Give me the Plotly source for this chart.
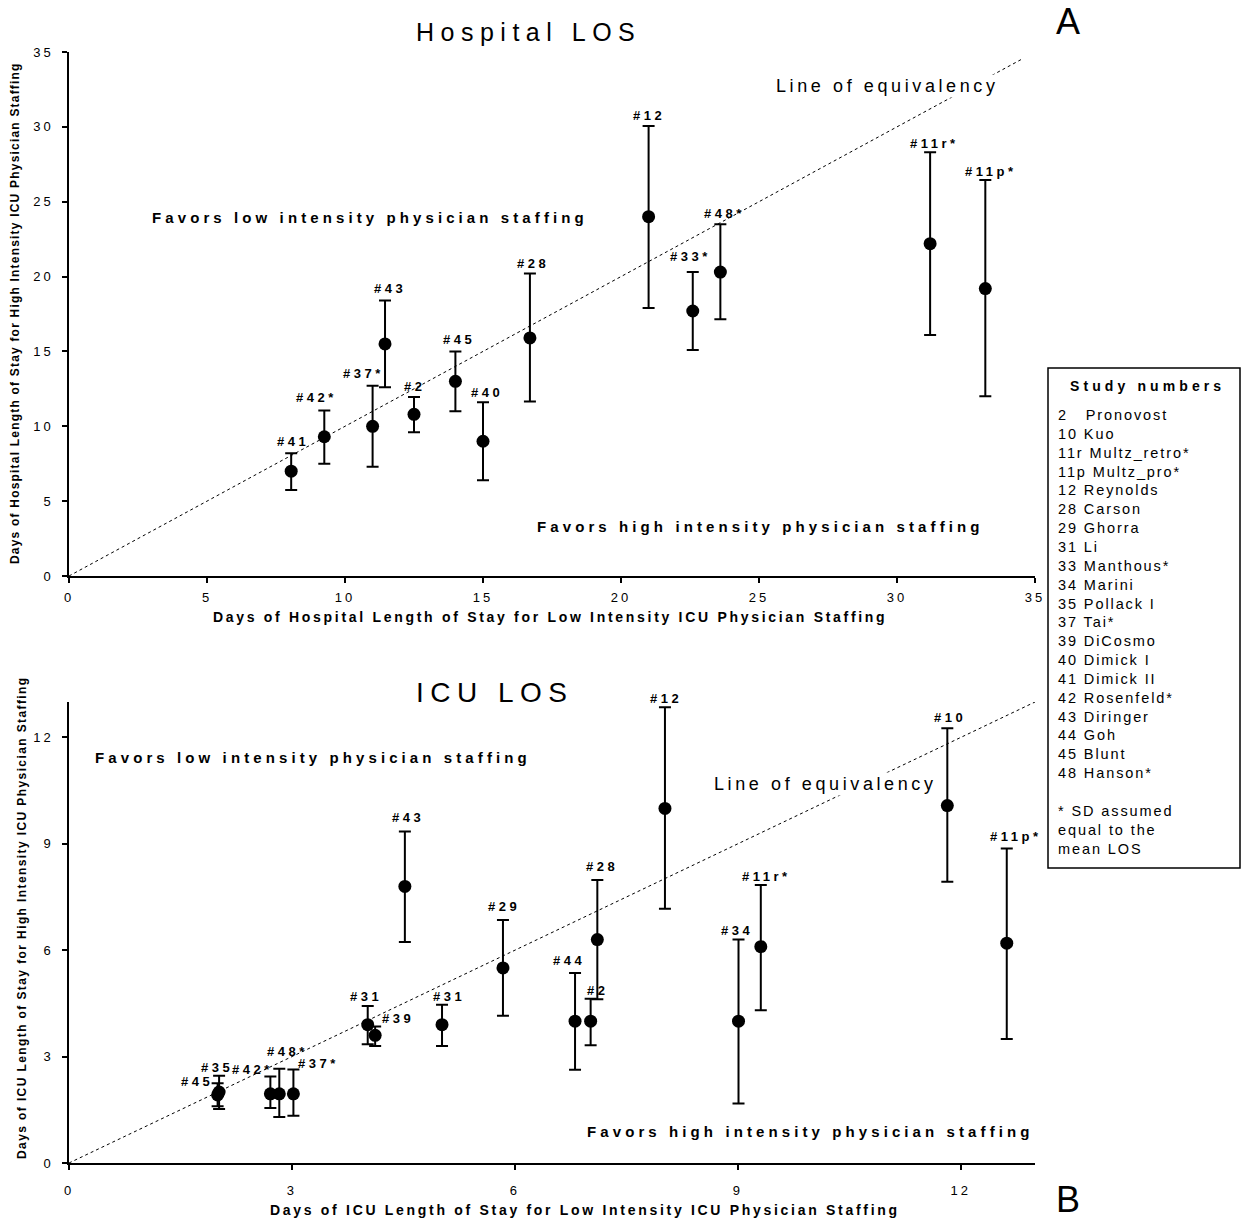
import plotly.graph_objects as go

# ---------------- data: Hospital LOS (panel A) ----------------
labels_top = ["#41", "#42*", "#37*", "#43", "#2", "#45", "#40", "#28", "#12", "#33*", "#48*", "#11r*", "#11p*"]
x_top = [8.05, 9.25, 11.0, 11.45, 12.5, 14.0, 15.0, 16.7, 21.0, 22.6, 23.6, 31.2, 33.2]
y_top = [7.0, 9.3, 10.0, 15.5, 10.8, 13.0, 9.0, 15.9, 24.0, 17.7, 20.3, 22.2, 19.2]
hi_top = [8.2, 11.05, 12.7, 18.4, 11.95, 15.0, 11.6, 20.2, 30.05, 20.3, 23.5, 28.3, 26.45]
lo_top = [5.75, 7.5, 7.3, 12.6, 9.6, 11.0, 6.4, 11.65, 17.9, 15.1, 17.15, 16.1, 12.0]
equiv_top = [0, 34.5]
ticks_top = [0, 5, 10, 15, 20, 25, 30, 35]

# ---------------- data: ICU LOS (panel B) ----------------
labels_bot = ["#45", "#35", "#42*", "#48*", "#37*", "#31", "#39", "#31", "#43", "#29",
              "#44", "#2", "#28", "#12", "#34", "#11r*", "#10", "#11p*"]
x_bot = [2.0, 2.02, 2.71, 2.83, 3.02, 4.02, 4.12, 5.02, 4.52, 5.84, 6.81, 7.02, 7.11, 8.02, 9.01, 9.31, 11.82, 12.62]
y_bot = [1.92, 2.0, 1.95, 1.95, 1.95, 3.9, 3.6, 3.9, 7.8, 5.5, 4.0, 4.0, 6.3, 10.0, 4.0, 6.1, 10.08, 6.2]
hi_bot = [2.25, 2.46, 2.44, 2.66, 2.64, 4.43, 3.85, 4.46, 9.35, 6.85, 5.36, 4.63, 7.98, 12.85, 6.3, 7.84, 12.26, 8.87]
lo_bot = [1.6, 1.52, 1.55, 1.3, 1.33, 3.35, 3.3, 3.3, 6.23, 4.15, 2.63, 3.32, 4.62, 7.17, 1.68, 4.31, 7.93, 3.5]
equiv_bot = [0, 13]
ticks_bot = [0, 3, 6, 9, 12]

# ---------------- legend box text ----------------
study_ids = ["2  ", "10", "11r", "11p", "12", "28", "29", "31", "33", "34", "35", "37", "39", "40", "41", "42", "43", "44", "45", "48"]
study_names = ["Pronovost", "Kuo", "Multz_retro*", "Multz_pro*", "Reynolds", "Carson", "Ghorra", "Li",
               "Manthous*", "Marini", "Pollack I", "Tai*", "DiCosmo", "Dimick I", "Dimick II",
               "Rosenfeld*", "Diringer", "Goh", "Blunt", "Hanson*"]
note_lines = ["* SD assumed", "equal to the", "mean LOS"]

# label pixel offsets (dx, dy) relative to the top of each error bar
off_top = [(0, 12), (-9, 13), (-11, 12), (3, 12), (-1, 11), (2, 12), (2, 10), (2, 10), (-1, 11),
           (-4, 16), (3, 11), (3, 9), (4, 9)]
off_bot = [(-22, 2), (-4, 8), (-19, 7), (7, 17), (24, 6), (-3, 9), (21, 8), (5, 8), (2, 14), (0, 14),
           (-8, 12), (5, 8), (3, 14), (0, 9), (-3, 9), (4, 8), (1, 11), (7, 12)]

W, H = 1241, 1222
FONT = "Liberation Sans, Arial, sans-serif"


def px(xp):
    return xp / W


def py(yp):
    return 1 - yp / H


def spaced(text, sp):
    return '<span style="letter-spacing:%spx">%s</span>' % (sp, text)


fig = go.Figure()

# equivalency lines
fig.add_trace(go.Scatter(x=equiv_top, y=equiv_top, mode="lines", xaxis="x", yaxis="y",
                         line=dict(color="black", width=1, dash="dot"), hoverinfo="skip"))
fig.add_trace(go.Scatter(x=equiv_bot, y=equiv_bot, mode="lines", xaxis="x2", yaxis="y2",
                         line=dict(color="black", width=1, dash="dot"), hoverinfo="skip"))

# points with error bars
fig.add_trace(go.Scatter(
    x=x_top, y=y_top, mode="markers", xaxis="x", yaxis="y",
    marker=dict(color="black", size=13, symbol="circle"),
    error_y=dict(type="data", symmetric=False,
                 array=[h - y for h, y in zip(hi_top, y_top)],
                 arrayminus=[y - l for l, y in zip(lo_top, y_top)],
                 color="black", thickness=2, width=6)))
fig.add_trace(go.Scatter(
    x=x_bot, y=y_bot, mode="markers", xaxis="x2", yaxis="y2",
    marker=dict(color="black", size=13, symbol="circle"),
    error_y=dict(type="data", symmetric=False,
                 array=[h - y for h, y in zip(hi_bot, y_bot)],
                 arrayminus=[y - l for l, y in zip(lo_bot, y_bot)],
                 color="black", thickness=2, width=6)))

ann = []
lab_font = dict(family=FONT, size=13, color="black")
for t, x, h, (dx, dy) in zip(labels_top, x_top, hi_top, off_top):
    ann.append(dict(xref="x", yref="y", x=x, y=h, text="<b>" + spaced(t, 3.5) + "</b>", showarrow=False,
                    xanchor="center", yanchor="middle", xshift=dx + 1.5, yshift=dy, font=lab_font))
for t, x, h, (dx, dy) in zip(labels_bot, x_bot, hi_bot, off_bot):
    ann.append(dict(xref="x2", yref="y2", x=x, y=h, text="<b>" + spaced(t, 3.5) + "</b>", showarrow=False,
                    xanchor="center", yanchor="middle", xshift=dx + 1.5, yshift=dy, font=lab_font))


def txt(xp, yp, text, size, bold=False, sp=0, angle=0, bg=None, anchor="center"):
    s = spaced(text, sp) if sp else text
    if bold:
        s = "<b>" + s + "</b>"
    d = dict(xref="paper", yref="paper", x=px(xp), y=py(yp), text=s, showarrow=False,
             xanchor=anchor, yanchor="middle", textangle=angle,
             font=dict(family=FONT, size=size, color="black"))
    if bg:
        d["bgcolor"] = bg
    ann.append(d)


# titles and panel letters
txt(528, 32, "Hospital LOS", 25, sp=6.5)
txt(495, 692, "ICU LOS", 28, sp=6.5)
txt(1068, 22, "A", 36)
txt(1068, 1199, "B", 36)

# region text
txt(370, 218, "Favors low intensity physician staffing", 15, bold=True, sp=4.1)
txt(760, 526, "Favors high intensity physician staffing", 15, bold=True, sp=4.1)
txt(887, 86, "Line of equivalency", 18, sp=3.6, bg="white")
txt(313, 757, "Favors low intensity physician staffing", 15, bold=True, sp=4.1)
txt(825, 784, "Line of equivalency", 18, sp=3.6, bg="white")
txt(810, 1131, "Favors high intensity physician staffing", 15, bold=True, sp=4.1)

# axis titles
txt(550, 617, "Days of Hospital Length of Stay for Low Intensity ICU Physician Staffing", 14, bold=True, sp=2.7)
txt(15, 313, "Days of Hospital Length of Stay for High Intensity ICU Physician Staffing", 12, bold=True, sp=1.2, angle=-90)
txt(585, 1210, "Days of ICU Length of Stay for Low Intensity ICU Physician Staffing", 14, bold=True, sp=2.7)
txt(22, 918, "Days of ICU Length of Stay for High Intensity ICU Physician Staffing", 12, bold=True, sp=1.4, angle=-90)

# legend box
txt(1068, 386, "Study numbers", 14, bold=True, sp=4.1, anchor="left")
legend_lines = [a + " " + b for a, b in zip(study_ids, study_names)] + [""] + note_lines
ann.append(dict(xref="paper", yref="paper", x=px(1056), y=py(405), xanchor="left", yanchor="top",
                align="left", showarrow=False,
                text=spaced("<br>".join(legend_lines), 1.9),
                font=dict(family=FONT, size=14.5, color="black")))

shapes = [dict(type="rect", xref="paper", yref="paper", x0=px(1048), x1=px(1240), y0=py(868), y1=py(368),
               line=dict(color="black", width=1.5), fillcolor="rgba(0,0,0,0)")]

axis_common = dict(showline=True, linecolor="black", linewidth=1.5, ticks="outside", ticklen=5,
                   tickcolor="black", tickwidth=1.5, showgrid=False, zeroline=False, automargin=False,
                   tickfont=dict(family=FONT, size=13, color="black"))


def tick_text(vals):
    return [spaced(str(v), 3) for v in vals]


fig.update_layout(
    width=W, height=H, margin=dict(l=0, r=0, t=0, b=0, autoexpand=False),
    paper_bgcolor="white", plot_bgcolor="white", showlegend=False,
    xaxis=dict(domain=[px(69), px(1035)], range=[0, 35], tickvals=ticks_top, ticktext=tick_text(ticks_top),
               anchor="y", ticklabelstandoff=4, **axis_common),
    yaxis=dict(domain=[py(576), py(52)], range=[0, 35], tickvals=ticks_top, ticktext=tick_text(ticks_top),
               anchor="x", ticklabelstandoff=6, **axis_common),
    xaxis2=dict(domain=[px(69), px(1035)], range=[0, 13], tickvals=ticks_bot, ticktext=tick_text(ticks_bot),
                anchor="y2", ticklabelstandoff=10, **axis_common),
    yaxis2=dict(domain=[py(1163), py(702)], range=[0, 13], tickvals=ticks_bot, ticktext=tick_text(ticks_bot),
                anchor="x2", ticklabelstandoff=6, **axis_common),
    annotations=ann, shapes=shapes,
)

fig.write_html("out.html", config={"displayModeBar": False},
               post_script="document.body.style.margin='0';document.body.style.padding='0';")
